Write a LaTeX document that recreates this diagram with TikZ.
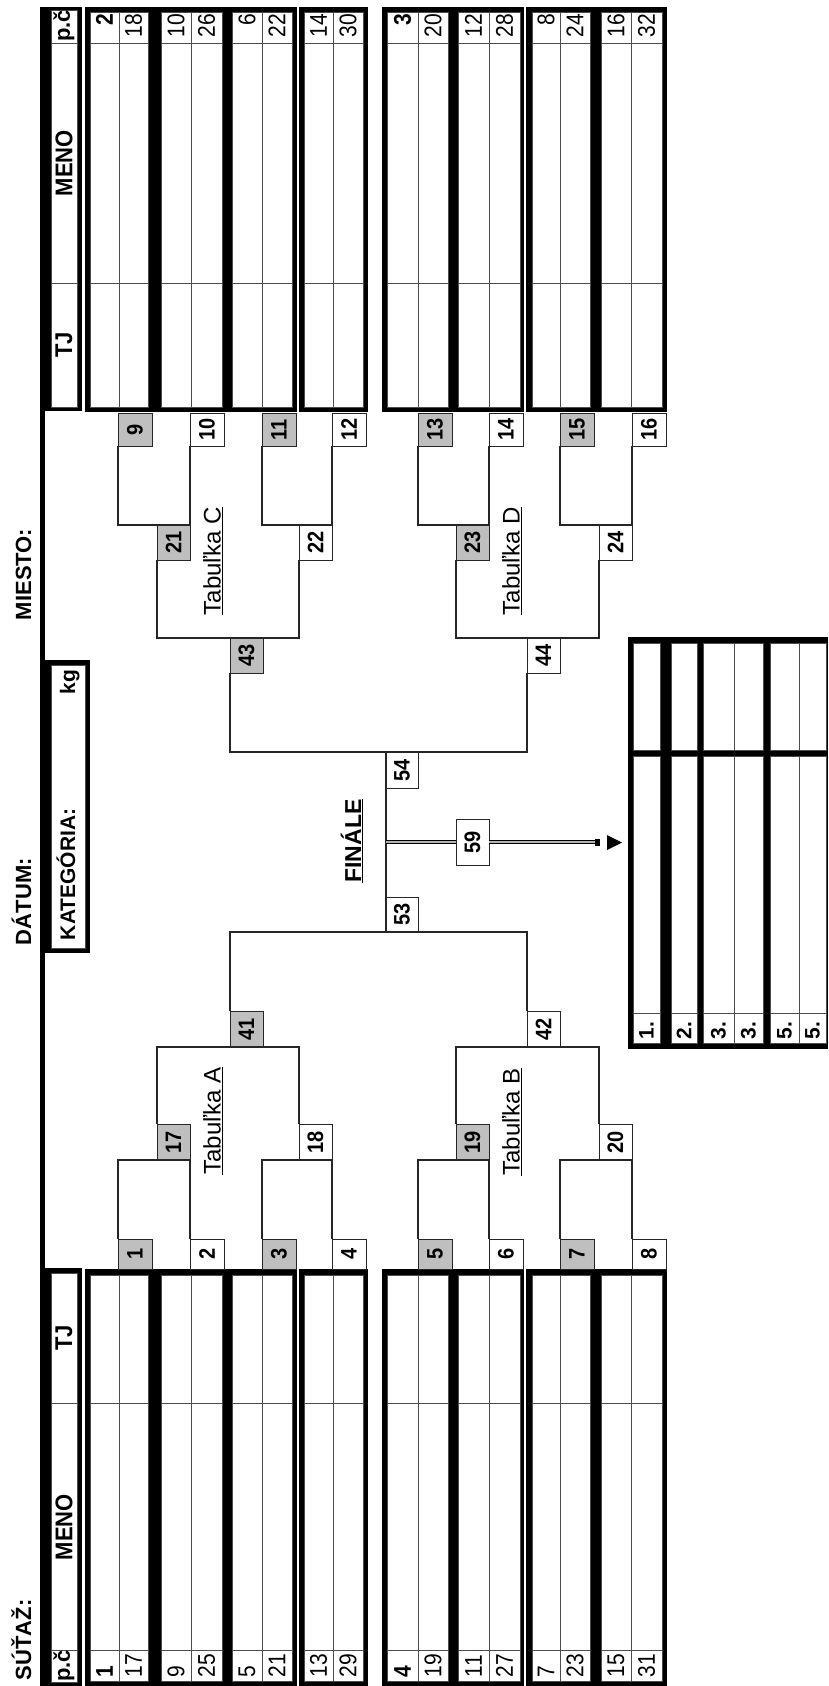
\documentclass[tikz,border=0pt]{standalone}
\usepackage{fontspec}
\setmainfont{Liberation Sans}
\newcommand\mtch[6]{\node[mbx,#6,minimum width={(#4-#2)*1pt},minimum height={(#5-#3)*1pt}] (m#1) at ({(#2+#4)/2},{(#3+#5)/2}) {\rotatebox{90}{\scalebox{1}[1.12]{#1}}};}
\tikzset{
 cell/.style={fill=white, draw=black!70, line width=0.8pt},
 thinln/.style={draw=black!70, line width=0.8pt},
 num/.style={inner sep=0pt, outer sep=0pt, font=\fontsize{21}{21}\selectfont},
 hdr/.style={inner sep=0pt, outer sep=0pt, font=\bfseries\fontsize{22}{22}\selectfont},
 mbx/.style={draw=black!85, line width=1pt, inner sep=0pt, outer sep=0pt, font=\bfseries\fontsize{20}{20}\selectfont},
 gry/.style={fill=black!25},
 wht/.style={fill=white},
 wire/.style={draw=black!85, line width=1.1pt},
 tab/.style={inner sep=0pt, font=\fontsize{24}{24}\selectfont},
 dbl/.style={double=black!30, double distance=1.6pt, line width=0.9pt},
}
\begin{document}
\begin{tikzpicture}[x=1pt,y=-1pt]
\useasboundingbox (0,0) rectangle (828,1686);
\fill[white] (0,0) rectangle (828,1686);

% left thick line
\fill (40,7) rectangle (45,1686);

% header boxes
\fill (40,7) rectangle (82,411);
\path[cell] (51,10) rectangle (77,43);
\path[cell] (51,43) rectangle (77,283);
\path[cell] (51,283) rectangle (77,407);
\node[hdr, rotate=90] (hpc1) at (64,26) {p.č};
\node[hdr, rotate=90] (hmeno1) at (64,163) {\scalebox{1}[1.1]{MENO}};
\node[hdr, rotate=90] (htj1) at (64,345) {\scalebox{1}[1.1]{TJ}};

\fill (40,1268) rectangle (82,1686);
\path[cell] (51,1273) rectangle (77,1403);
\path[cell] (51,1403) rectangle (77,1650);
\path[cell] (51,1650) rectangle (77,1682);
\node[hdr, rotate=90] (htj2) at (64,1338) {\scalebox{1}[1.1]{TJ}};
\node[hdr, rotate=90] (hmeno2) at (64,1527) {\scalebox{1}[1.1]{MENO}};
\node[hdr, rotate=90] (hpc2) at (64,1666) {p.č};

% category box
\fill (40,660) rectangle (90,953);
\path[cell] (51,665) rectangle (85,948);
\node[hdr, rotate=90, anchor=base west, font=\bfseries\fontsize{21}{21}\selectfont] (kat) at (75,940) {KATEGÓRIA:};
\node[hdr, rotate=90, anchor=base east, font=\bfseries\fontsize{21}{21}\selectfont] (kg) at (75,670) {kg};

% titles
\node[hdr, rotate=90, anchor=base west] (sutaz) at (31,1680) {SÚŤAŽ:};
\node[hdr, rotate=90, anchor=base west] (datum) at (31,945) {DÁTUM:};
\node[hdr, rotate=90, anchor=base west] (miesto) at (31,620) {MIESTO:};

% table black frames
\foreach \xa/\xb in {85/297, 299/368, 382/524, 526/667} {
  \fill (\xa,7) rectangle (\xb,412);
  \fill (\xa,1269) rectangle (\xb,1686);
}
% table rows
\foreach \xa/\xb/\tn/\bn/\tw/\bw in {90/119/2/1/\bfseries/\bfseries, 119/148/18/17//, 161/191/10/9//, 191/222/26/25//, 232/262/6/5//, 262/292/22/21//, 304/333/14/13//, 333/363/30/29//, 387/418/3/4/\bfseries/\bfseries, 418/448/20/19//, 458/489/12/11//, 489/520/28/27//, 532/560/8/7//, 560/590/24/23//, 601/631/16/15//, 631/662/32/31//} {
  \path[cell] (\xa,12) rectangle (\xb,407);
  \draw[thinln] (\xa,43) -- (\xb,43) (\xa,283) -- (\xb,283);
  \node[num, rotate=90, anchor=east] (t\tn) at ({(\xa+\xb)/2},14) {\tw\scalebox{1}[1.15]{\tn}};
  \path[cell] (\xa,1275) rectangle (\xb,1681);
  \draw[thinln] (\xa,1403) -- (\xb,1403) (\xa,1650) -- (\xb,1650);
  \node[num, rotate=90, anchor=west] (b\bn) at ({(\xa+\xb)/2},1677) {\bw\scalebox{1}[1.15]{\bn}};
}

% match boxes, top half
\mtch{9}{118}{413}{152}{446}{gry}
\mtch{10}{190}{413}{224}{446}{wht}
\mtch{11}{262}{413}{296}{446}{gry}
\mtch{12}{332}{413}{366}{446}{wht}
\mtch{13}{418}{413}{452}{446}{gry}
\mtch{14}{489}{413}{523}{446}{wht}
\mtch{15}{560}{413}{594}{446}{gry}
\mtch{16}{632}{413}{666}{446}{wht}
\mtch{21}{157}{525}{190}{560}{gry}
\mtch{22}{299}{525}{332}{560}{wht}
\mtch{23}{456}{525}{489}{560}{gry}
\mtch{24}{599}{525}{632}{560}{wht}
\mtch{43}{230}{638}{263}{673}{gry}
\mtch{44}{527}{638}{560}{673}{wht}
\mtch{54}{386}{752}{418}{788}{wht}
\mtch{59}{456}{819}{489}{865}{wht}
\mtch{53}{386}{897}{418}{932}{wht}
% bottom half
\mtch{41}{230}{1011}{263}{1047}{gry}
\mtch{42}{527}{1011}{560}{1047}{wht}
\mtch{17}{157}{1124}{190}{1160}{gry}
\mtch{18}{299}{1124}{332}{1160}{wht}
\mtch{19}{456}{1124}{489}{1160}{gry}
\mtch{20}{599}{1124}{632}{1160}{wht}
\mtch{1}{118}{1239}{152}{1269}{gry}
\mtch{2}{190}{1239}{224}{1269}{wht}
\mtch{3}{262}{1239}{296}{1269}{gry}
\mtch{4}{332}{1239}{366}{1269}{wht}
\mtch{5}{418}{1239}{452}{1269}{gry}
\mtch{6}{489}{1239}{523}{1269}{wht}
\mtch{7}{560}{1239}{594}{1269}{gry}
\mtch{8}{632}{1239}{666}{1269}{wht}

% bracket wires
\draw[wire] (m9.south west) |- (m21.north east) -- (m10.south west);
\draw[wire] (m11.south west) |- (m22.north east) -- (m12.south west);
\draw[wire] (m13.south west) |- (m23.north east) -- (m14.south west);
\draw[wire] (m15.south west) |- (m24.north east) -- (m16.south west);
\draw[wire] (m21.south west) |- (m43.north west) -| (m22.south west);
\draw[wire] (m23.south west) |- (m44.north west) -| (m24.south west);
\draw[wire] (m43.south west) |- (m54.north west) -| (m44.south west);
\draw[wire] (m54.north west) -- (m53.south west);
\draw[wire] (m41.north west) |- (m53.south west) -| (m42.north west);
\draw[wire] (m17.north west) |- (m41.south west) -| (m18.north west);
\draw[wire] (m19.north west) |- (m42.south west) -| (m20.north west);
\draw[wire] (m1.north west) |- (m17.south east) -- (m2.north west);
\draw[wire] (m3.north west) |- (m18.south east) -- (m4.north west);
\draw[wire] (m5.north west) |- (m19.south east) -- (m6.north west);
\draw[wire] (m7.north west) |- (m20.south east) -- (m8.north west);

% final connector
\coordinate (fend) at (596,842);
\draw[dbl] (m54.north west |- m59.west) -- (m59.west);
\draw[dbl] (m59.east) -- (fend);
\fill (fend) ++(-1,-3.5) rectangle ++(5,7);
\fill (607,835) -- (622,842.5) -- (607,850) -- cycle;

% labels
\node[tab, rotate=90] (tabA) at (213,1121) {\underline{Tabuľka A}};
\node[tab, rotate=90] (tabC) at (213,561) {\underline{Tabuľka C}};
\node[tab, rotate=90] (tabB) at (512,1122) {\underline{Tabuľka B}};
\node[tab, rotate=90] (tabD) at (512,561) {\underline{Tabuľka D}};
\node[inner sep=0pt, rotate=90, font=\bfseries\fontsize{23}{23}\selectfont] (fin) at (352,841) {\underline{FINÁLE}};

% results table
\fill (628,637) rectangle (828,1049);
\foreach \xa/\xb/\lab/\i in {633/660/1./1, 671/697/2./2, 703/734/3./3, 734/763/3./4, 770/799/5./5, 799/826/5./6} {
  \path[cell] (\xa,643) rectangle (\xb,750);
  \path[cell] (\xa,756) rectangle (\xb,1043);
  \draw[thinln] (\xa,1013) -- (\xb,1013);
  \node[hdr, rotate=90, anchor=west, font=\bfseries\fontsize{21}{21}\selectfont] (r\i) at ({(\xa+\xb)/2},1039) {\lab};
}
\end{tikzpicture}
\end{document}
